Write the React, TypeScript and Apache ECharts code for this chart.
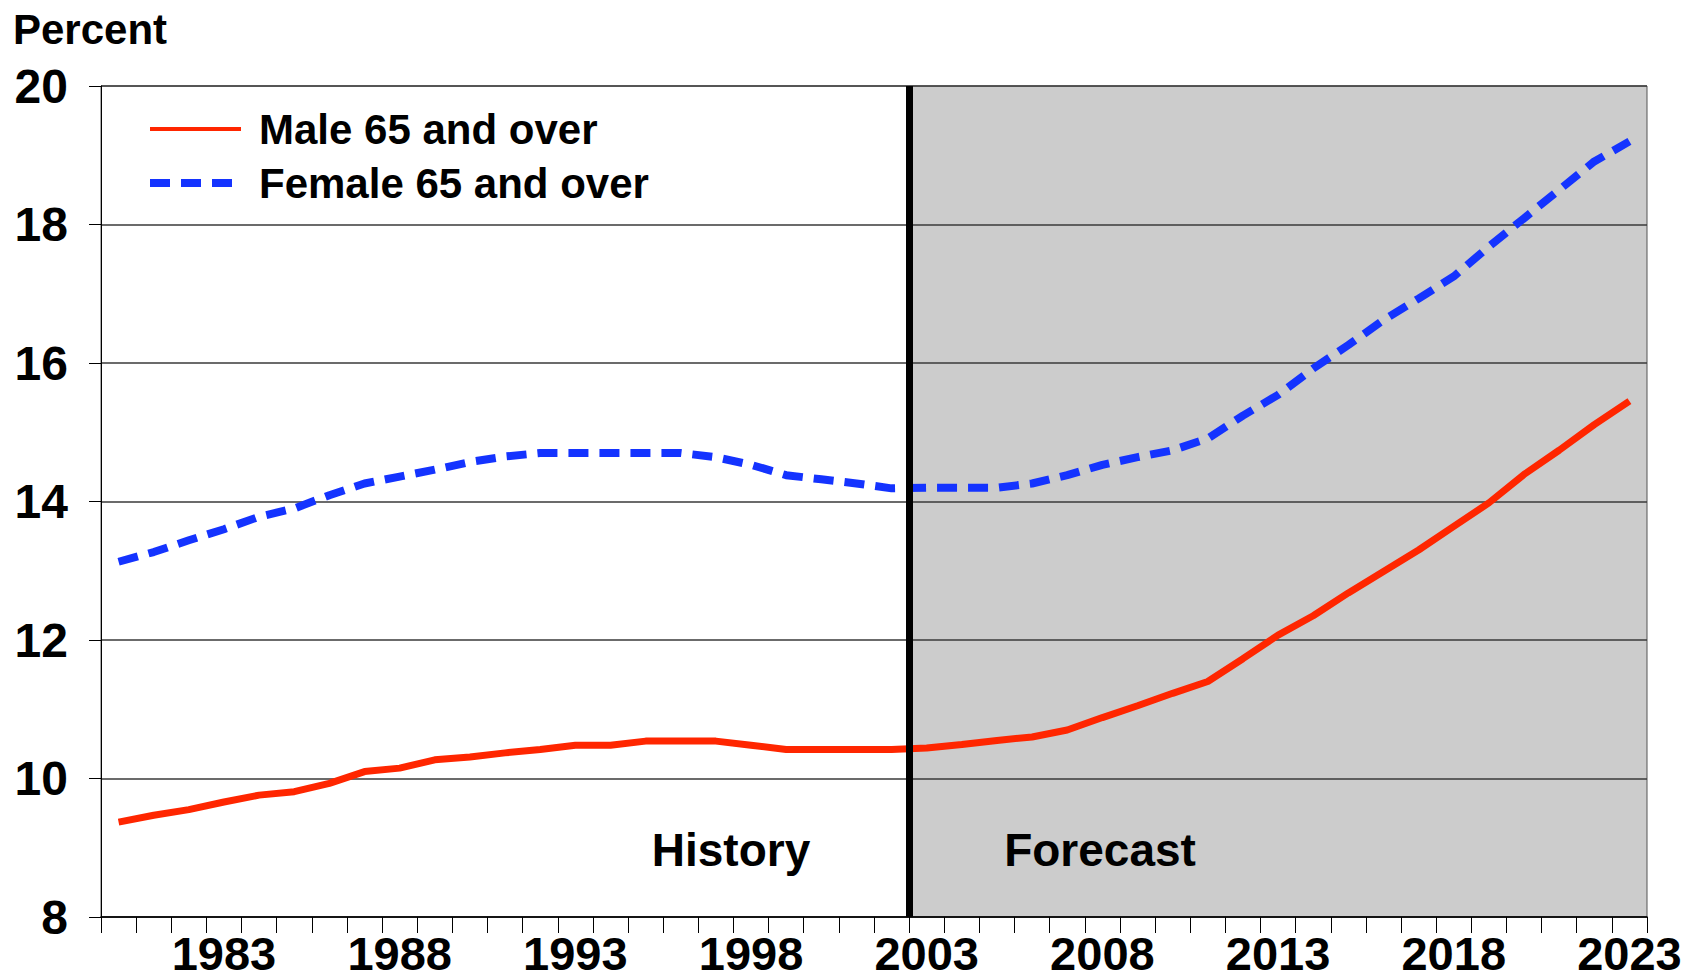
import React, { useEffect, useRef } from "react";
import * as echarts from "echarts";

const years = [
  "1980", "1981", "1982", "1983", "1984", "1985", "1986", "1987", "1988", "1989",
  "1990", "1991", "1992", "1993", "1994", "1995", "1996", "1997", "1998", "1999",
  "2000", "2001", "2002", "2003", "2004", "2005", "2006", "2007", "2008", "2009",
  "2010", "2011", "2012", "2013", "2014", "2015", "2016", "2017", "2018", "2019",
  "2020", "2021", "2022", "2023",
];

const male = [
  9.37, 9.47, 9.55, 9.66, 9.76, 9.81, 9.93, 10.1, 10.15, 10.27,
  10.31, 10.37, 10.42, 10.48, 10.48, 10.54, 10.54, 10.54, 10.48, 10.42,
  10.42, 10.42, 10.42, 10.44, 10.49, 10.55, 10.6, 10.7, 10.88, 11.05,
  11.23, 11.4, 11.73, 12.07, 12.35, 12.68, 12.99, 13.3, 13.64, 13.98,
  14.39, 14.74, 15.11, 15.45,
];

const female = [
  13.13, 13.27, 13.44, 13.6, 13.78, 13.9, 14.09, 14.26, 14.36, 14.46,
  14.57, 14.65, 14.7, 14.7, 14.7, 14.7, 14.7, 14.64, 14.53, 14.38,
  14.32, 14.26, 14.19, 14.2, 14.2, 14.2, 14.26, 14.38, 14.53, 14.64,
  14.74, 14.91, 15.24, 15.54, 15.92, 16.26, 16.62, 16.93, 17.25, 17.68,
  18.09, 18.5, 18.91, 19.2,
];

const seriesNames = ["Male 65 and over", "Female 65 and over"];
const forecastSpan = [2002.5, 2023.5];
const yRange = [8, 20, 2];
const periodLabels = ["History", "Forecast"];
const yTitle = "Percent";

const FONT = "'Liberation Sans', Arial, sans-serif";

export default function App() {
  const ref = useRef<HTMLDivElement>(null);

  useEffect(() => {
    if (!ref.current) return;
    const chart = echarts.init(ref.current, undefined, { renderer: "svg" });
    chart.setOption({
      animation: false,
      backgroundColor: "#ffffff",
      grid: {
        left: 101,
        right: 41,
        top: 86,
        bottom: 62,
        show: true,
        borderColor: "#555555",
        borderWidth: 1,
        backgroundColor: "transparent",
        z: 1.5,
      },
      legend: {
        orient: "vertical",
        left: 146,
        top: 106,
        padding: 0,
        itemWidth: 91,
        itemHeight: 14,
        itemGap: 8,
        selectedMode: false,
        itemStyle: { opacity: 0 },
        data: [
          { name: seriesNames[0], lineStyle: { width: 4 } },
          { name: seriesNames[1], lineStyle: { width: 8, type: [20, 11] } },
        ],
        textStyle: {
          fontFamily: FONT,
          fontWeight: "bold",
          fontSize: 42,
          lineHeight: 46,
          color: "#000000",
          padding: [0, 0, 0, 13],
        },
      },
      xAxis: [
        {
          type: "category",
          data: years,
          boundaryGap: true,
          z: 1.5,
          axisLine: { show: true, lineStyle: { color: "#000000", width: 1.5 } },
          axisTick: {
            show: true,
            interval: 0,
            length: 16,
            lineStyle: { color: "#000000", width: 1 },
          },
          axisLabel: {
            interval: (i: number) => (i - 3) % 5 === 0,
            fontFamily: FONT,
            fontWeight: "bold",
            fontSize: 47,
            lineHeight: 46,
            color: "#000000",
            margin: 13,
          },
          splitLine: { show: false },
        },
        {
          type: "value",
          min: forecastSpan[0] - 23,
          max: forecastSpan[1],
          show: false,
        },
      ],
      yAxis: {
        type: "value",
        min: yRange[0],
        max: yRange[1],
        interval: yRange[2],
        z: 1.5,
        axisLine: { show: true, lineStyle: { color: "#000000", width: 1 } },
        axisTick: { show: true, length: 12, lineStyle: { color: "#000000", width: 1 } },
        axisLabel: {
          fontFamily: FONT,
          fontWeight: "bold",
          fontSize: 48,
          color: "#000000",
          margin: 33,
        },
        splitLine: { show: true, lineStyle: { color: "#3a3a3a", width: 1.5 } },
      },
      graphic: [
        {
          type: "text",
          left: 13,
          top: 8,
          style: {
            text: yTitle,
            fontFamily: FONT,
            fontWeight: "bold",
            fontSize: 42,
            fill: "#000000",
          },
        },
        {
          type: "text",
          x: 731,
          y: 850,
          z: 10,
          style: {
            text: periodLabels[0],
            fontFamily: FONT,
            fontWeight: "bold",
            fontSize: 46,
            fill: "#000000",
            textAlign: "center",
            textVerticalAlign: "middle",
          },
        },
        {
          type: "text",
          x: 1100,
          y: 850,
          z: 10,
          style: {
            text: periodLabels[1],
            fontFamily: FONT,
            fontWeight: "bold",
            fontSize: 46,
            fill: "#000000",
            textAlign: "center",
            textVerticalAlign: "middle",
          },
        },
      ],
      series: [
        {
          name: "forecast-shade",
          type: "line",
          xAxisIndex: 1,
          data: [],
          z: 1,
          silent: true,
          markArea: {
            silent: true,
            z: 1,
            itemStyle: { color: "#CCCCCC" },
            label: { show: false },
            data: [[{ xAxis: forecastSpan[0] }, { xAxis: forecastSpan[1] }]],
          },
        },
        {
          name: seriesNames[0],
          type: "line",
          data: male,
          symbol: "none",
          z: 3,
          lineStyle: { color: "#FF2600", width: 7 },
          itemStyle: { color: "#FF2600" },
        },
        {
          name: seriesNames[1],
          type: "line",
          data: female,
          symbol: "none",
          z: 3,
          lineStyle: { color: "#1433FF", width: 8, type: [20, 11] },
          itemStyle: { color: "#1433FF" },
        },
        {
          name: "forecast-start",
          type: "line",
          xAxisIndex: 1,
          data: [],
          z: 5,
          silent: true,
          markLine: {
            silent: true,
            z: 5,
            symbol: ["none", "none"],
            label: { show: false },
            lineStyle: { color: "#000000", width: 7, type: "solid" },
            data: [{ xAxis: forecastSpan[0] }],
          },
        },
      ],
    });
    return () => chart.dispose();
  }, []);

  return (
    <div
      ref={ref}
      style={{ position: "fixed", left: 0, top: 0, width: 1688, height: 979 }}
    />
  );
}
